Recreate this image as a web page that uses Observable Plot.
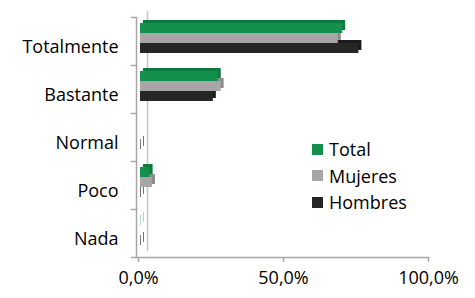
<!DOCTYPE html>
<html><head><meta charset="utf-8">
<script src="https://cdn.jsdelivr.net/npm/d3@7"></script>
<script src="https://cdn.jsdelivr.net/npm/@observablehq/plot@0.6"></script>
<style>
html,body{margin:0;padding:0;background:#fff;}
#wrap{position:relative;width:475px;height:298px;}
#legend{position:absolute;left:312px;top:136px;font-family:"Open Sans",sans-serif;font-size:18px;color:#000;}
.item{display:flex;align-items:center;height:26.5px;}
.sw{width:11px;height:11px;margin-right:6px;}
</style>
</head><body>
<div id="wrap"><div id="legend"></div></div>
<script>
const categories = ["Totalmente", "Bastante", "Normal", "Poco", "Nada"];
const seriesNames = ["Total", "Mujeres", "Hombres"];
const totalValues = [70.4, 27.5, 0.5, 4.0, 0.8];
const mujeresValues = [68.9, 28.5, 0.3, 4.8, 0.3];
const hombresValues = [76.0, 25.8, 0.9, 0.9, 0.9];
const xTicks = [0, 50, 100];
const colors = ["#13904b", "#a6a6a6", "#262626"];
const depthColors = ["#0e7a3e", "#8c8c8c", "#1a1a1a"];

const seriesValues = [totalValues, mujeresValues, hombresValues];
const data = [];
categories.forEach((c, i) => seriesNames.forEach((s, j) => data.push({cat: c, series: s, value: seriesValues[j][i], idx: j})));

const axisGray = "#a6a6a6";
const chart = Plot.plot({
  width: 475, height: 298,
  marginLeft: 138, marginRight: 47, marginTop: 16, marginBottom: 41,
  x: {domain: [0, 100], label: null},
  fy: {domain: categories, padding: 0, label: null},
  y: {domain: seriesNames, paddingInner: 0, paddingOuter: 0.84, align: 0.35, axis: null},
  style: {fontFamily: "Open Sans", fontSize: "18px", color: "#000", background: "#fff"},
  marks: [
    Plot.ruleX([0], {dx: 9, dy: -6, stroke: "#c4c4c4", strokeWidth: 1.5}),
    Plot.ruleX([0], {dx: -2, stroke: axisGray, strokeWidth: 1.5}),
    Plot.frame({anchor: "top", insetLeft: -7, insetRight: 292, stroke: axisGray, strokeWidth: 1.5}),
    Plot.frame({anchor: "bottom", facetAnchor: "bottom", insetLeft: -7, stroke: axisGray, strokeWidth: 1.5}),
    Plot.barX(data, {x: "value", y: "series", fy: "cat", fill: d => depthColors[d.idx], dx: 3, dy: -3, insetLeft: 2}),
    Plot.barX(data, {x: "value", y: "series", fy: "cat", fill: d => colors[d.idx], insetLeft: 2}),
    Plot.axisFy({anchor: "left", label: null, tickSize: 0, tickPadding: 20, dy: 6}),
    Plot.axisX({ticks: xTicks, label: null, tickSize: 5, tickPadding: 9, stroke: axisGray, strokeWidth: 1.5,
      tickFormat: d => d.toFixed(1).replace(".", ",") + "%"})
  ]
});
document.getElementById("wrap").prepend(chart);

const legend = document.getElementById("legend");
seriesNames.forEach((s, j) => {
  const it = document.createElement("div");
  it.className = "item";
  it.innerHTML = `<span class="sw" style="background:${colors[j]}"></span><span>${s}</span>`;
  legend.appendChild(it);
});
</script>
</body></html>
